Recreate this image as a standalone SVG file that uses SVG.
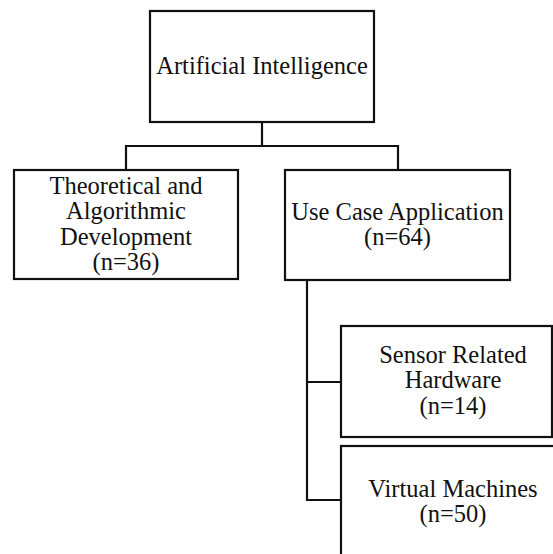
<svg xmlns="http://www.w3.org/2000/svg" width="553" height="554" viewBox="0 0 553 554">
  <style>
    .box { fill: #ffffff; stroke: #111111; stroke-width: 2.2; }
    .link { fill: none; stroke: #111111; stroke-width: 2.2; stroke-linecap: square; }
    text { font-size: 24.5px; fill: #111111; text-anchor: middle; }
  </style>
  <rect width="553" height="554" fill="#ffffff"/>

  <!-- tree connectors -->
  <g id="connectors">
    <path class="link" d="M262,122 V146 M126,146 H398 M126,146 V170 M398,146 V170"/>
    <path class="link" d="M307,280 V500 M307,382 H341 M307,500 H341"/>
  </g>

  <g font-family="Liberation Serif, Times New Roman, DejaVu Serif, serif">
    <g id="node-ai">
      <rect class="box" x="150" y="11" width="224" height="111"/>
      <text x="262" y="74">Artificial Intelligence</text>
    </g>

    <g id="node-theory">
      <rect class="box" x="14" y="170" width="224" height="109"/>
      <text x="126" y="194">Theoretical and</text>
      <text x="126" y="219">Algorithmic</text>
      <text x="126" y="245">Development</text>
      <text x="126" y="270">(n=36)</text>
    </g>

    <g id="node-usecase">
      <rect class="box" x="285" y="170" width="225" height="110"/>
      <text x="397.5" y="220">Use Case Application</text>
      <text x="397.5" y="245">(n=64)</text>
    </g>

    <g id="node-sensor">
      <rect class="box" x="341" y="326" width="211" height="111"/>
      <text x="453" y="363">Sensor Related</text>
      <text x="453" y="388">Hardware</text>
      <text x="453" y="414">(n=14)</text>
    </g>

    <g id="node-virtual">
      <rect class="box" x="341" y="446" width="230" height="130"/>
      <text x="453" y="497">Virtual Machines</text>
      <text x="453" y="522">(n=50)</text>
    </g>
  </g>
</svg>
